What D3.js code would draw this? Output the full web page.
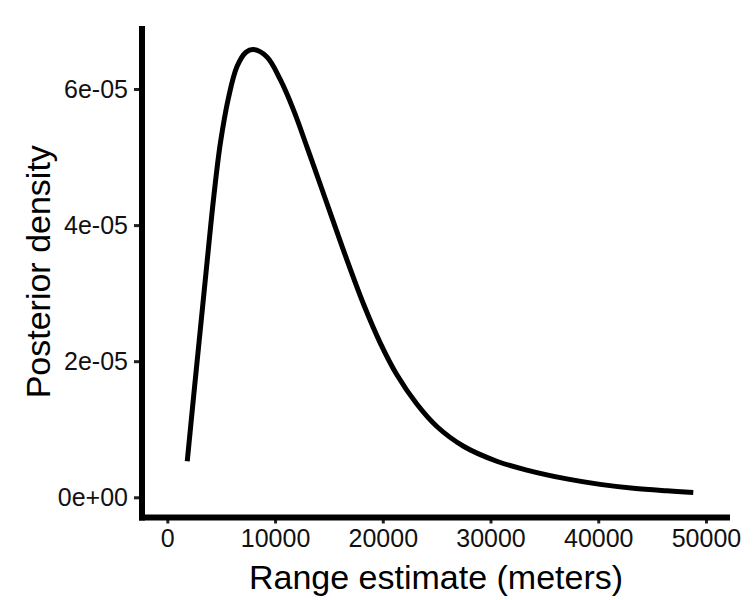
<!DOCTYPE html>
<html>
<head>
<meta charset="utf-8">
<script src="https://cdn.jsdelivr.net/npm/d3@7"></script>
<style>
  body { margin: 0; background: #fff; }
  svg { display: block; }
</style>
</head>
<body>
<svg id="chart" width="755" height="600"></svg>
<script>
// Range estimate (meters)
const rangeM = [1850, 2440, 2900, 3370, 3830, 4300, 4920, 5690, 6470, 7300, 8000,
  9250, 10480, 11720, 12960, 14190, 15280, 16670, 18210, 19760, 21310, 23160,
  25020, 27490, 30580, 33370, 37080, 40170, 43260, 46350, 48820];

// Posterior density
const density = [5.3e-6, 1.48e-5, 2.21e-5, 2.95e-5, 3.68e-5, 4.40e-5, 5.20e-5, 5.88e-5,
  6.33e-5, 6.54e-5, 6.58e-5, 6.47e-5, 6.14e-5, 5.69e-5, 5.15e-5, 4.60e-5, 4.11e-5,
  3.49e-5, 2.84e-5, 2.27e-5, 1.80e-5, 1.37e-5, 1.04e-5, 7.5e-6, 5.3e-6, 4.0e-6,
  2.7e-6, 1.9e-6, 1.33e-6, 9.6e-7, 7.2e-7];

const xTicks = [0, 10000, 20000, 30000, 40000, 50000];
const yTicks = [0, 2e-5, 4e-5, 6e-5];

const data = rangeM.map((r, i) => ({ r: r, d: density[i] }));

const svg = d3.select("#chart");

// Panel edges in pixels
const panel = { left: 142, right: 730, top: 26, bottom: 517.5 };

const x = d3.scaleLinear()
    .domain([-2350, 52230])
    .range([panel.left, panel.right]);

const y = d3.scaleLinear()
    .domain([-2.97e-6, 6.926e-5])
    .range([panel.bottom, panel.top]);

// y tick format like R: 0e+00, 2e-05 ...
const sciFmt = v => {
    if (v === 0) return "0e+00";
    const e = Math.floor(Math.log10(Math.abs(v)));
    const m = Math.round(v / Math.pow(10, e));
    const sign = e < 0 ? "-" : "+";
    return m + "e" + sign + String(Math.abs(e)).padStart(2, "0");
};

// X axis
const xAxis = svg.append("g")
    .attr("transform", `translate(0,${panel.bottom})`)
    .call(d3.axisBottom(x).tickValues(xTicks).tickFormat(d3.format("d")).tickSize(6).tickPadding(6));
xAxis.select(".domain").remove();
xAxis.selectAll(".tick line").attr("stroke", "#222").attr("stroke-width", 3);
xAxis.selectAll(".tick text")
    .attr("fill", "#111")
    .style("font-family", "Arial, 'Liberation Sans', sans-serif")
    .style("font-size", "25px");

// Y axis
const yAxis = svg.append("g")
    .attr("transform", `translate(${panel.left},0)`)
    .call(d3.axisLeft(y).tickValues(yTicks).tickFormat(sciFmt).tickSize(8).tickPadding(6));
yAxis.select(".domain").remove();
yAxis.selectAll(".tick line").attr("stroke", "#222").attr("stroke-width", 3);
yAxis.selectAll(".tick text")
    .attr("fill", "#111")
    .style("font-family", "Arial, 'Liberation Sans', sans-serif")
    .style("font-size", "25px");

// Thick axis lines
svg.append("line")
    .attr("x1", panel.left).attr("x2", panel.left)
    .attr("y1", panel.top).attr("y2", panel.bottom + 3)
    .attr("stroke", "#000").attr("stroke-width", 6);
svg.append("line")
    .attr("x1", panel.left - 3).attr("x2", panel.right)
    .attr("y1", panel.bottom).attr("y2", panel.bottom)
    .attr("stroke", "#000").attr("stroke-width", 6);

// Density curve
const line = d3.line()
    .x(d => x(d.r))
    .y(d => y(d.d))
    .curve(d3.curveCatmullRom.alpha(0.5));

svg.append("path")
    .datum(data)
    .attr("d", line)
    .attr("fill", "none")
    .attr("stroke", "#000")
    .attr("stroke-width", 5)
    .attr("stroke-linejoin", "round");

// Axis titles
svg.append("text")
    .attr("x", (panel.left + panel.right) / 2)
    .attr("y", 589)
    .attr("text-anchor", "middle")
    .style("font-family", "Arial, 'Liberation Sans', sans-serif")
    .style("font-size", "34px")
    .attr("fill", "#000")
    .text("Range estimate (meters)");

svg.append("text")
    .attr("transform", `translate(50,${(panel.top + panel.bottom) / 2}) rotate(-90)`)
    .attr("text-anchor", "middle")
    .style("font-family", "Arial, 'Liberation Sans', sans-serif")
    .style("font-size", "34px")
    .attr("fill", "#000")
    .text("Posterior density");
</script>
</body>
</html>
